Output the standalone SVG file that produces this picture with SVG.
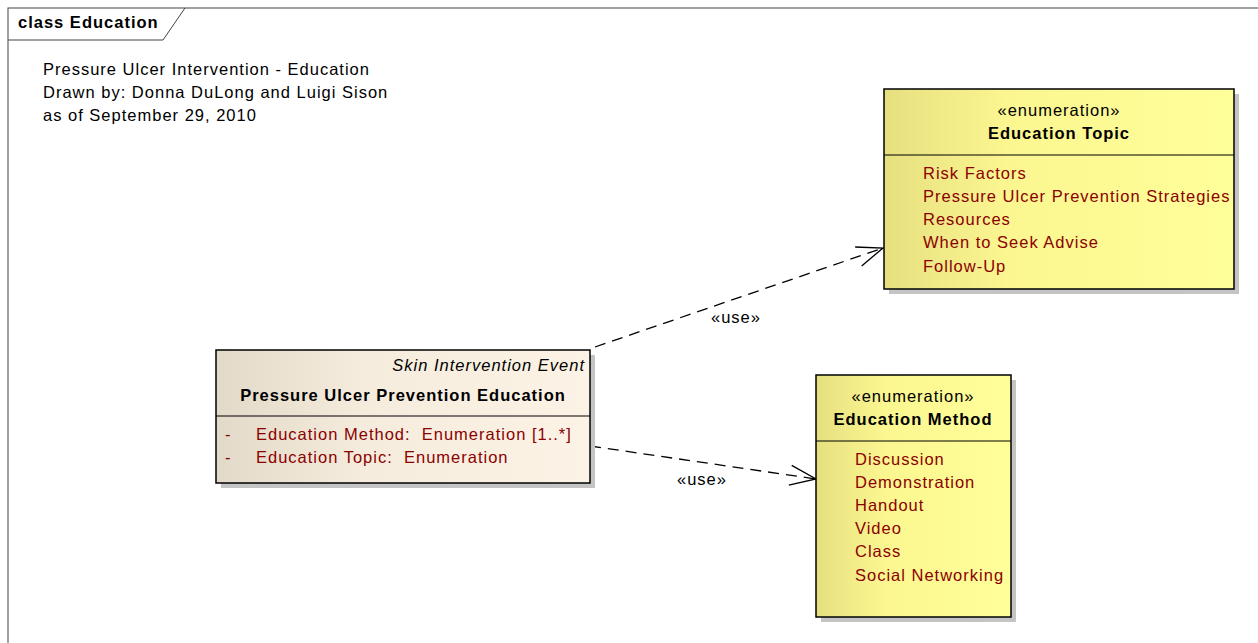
<svg xmlns="http://www.w3.org/2000/svg" width="1258" height="643" viewBox="0 0 1258 643">
<defs>
<style>
text{font-family:"Liberation Sans",Arial,sans-serif;font-size:16.5px;letter-spacing:1px;fill:#000;white-space:pre}
.b{font-weight:bold}
.i{font-style:italic}
.r{fill:#8b0000}
.c{text-anchor:middle}
.e{text-anchor:end}
.box{stroke:#000;stroke-width:1.5}
.sh{fill:#c4c4c4}
.dv{stroke:#000;stroke-width:1.2}
.con{fill:none;stroke:#000;stroke-width:1.3;stroke-dasharray:11 7}
</style>
<linearGradient id="gy" x1="0" y1="0" x2="1" y2="0">
<stop offset="0" stop-color="#e6df80"/>
<stop offset="0.35" stop-color="#fbf690"/>
<stop offset="1" stop-color="#ffff99"/>
</linearGradient>
<linearGradient id="gb" x1="0" y1="0" x2="1" y2="0">
<stop offset="0" stop-color="#e2d9c8"/>
<stop offset="0.4" stop-color="#f5ecdd"/>
<stop offset="1" stop-color="#fcf3e6"/>
</linearGradient>
<marker id="arr" markerUnits="userSpaceOnUse" markerWidth="40" markerHeight="30" viewBox="-30 -15 40 30" refX="0" refY="0" orient="auto">
<path d="M -26 -10 L 0 0 L -26 10" fill="none" stroke="#000" stroke-width="1.3"/>
</marker>
</defs>
<rect width="1258" height="643" fill="#fff"/>
<g id="frame">
<rect x="8" y="8" width="1262" height="650" fill="none" stroke="#444" stroke-width="1"/>
<path d="M 8 40 L 163 40 L 185 8" fill="none" stroke="#444" stroke-width="1"/>
<text class="b" x="18" y="28">class Education</text>
</g>
<g id="note">
<text x="43" y="75">Pressure Ulcer Intervention - Education</text>
<text x="43" y="98">Drawn by: Donna DuLong and Luigi Sison</text>
<text x="43" y="121">as of September 29, 2010</text>
</g>
<g id="connectors">
<path class="con" d="M 595 347 L 883 248" marker-end="url(#arr)"/>
<text class="c" x="736" y="323">«use»</text>
<path class="con" d="M 590 446 L 816 479" marker-end="url(#arr)"/>
<text class="c" x="702" y="485">«use»</text>
</g>
<g id="education-topic">
<rect class="sh" x="889" y="94" width="350" height="200"/>
<rect class="box" x="884" y="89" width="350" height="200" fill="url(#gy)"/>
<line class="dv" x1="884" y1="155" x2="1234" y2="155"/>
<text class="c" x="1059" y="116">«enumeration»</text>
<text class="c b" x="1059" y="139">Education Topic</text>
<text class="r" x="923" y="179">Risk Factors</text>
<text class="r" x="923" y="202">Pressure Ulcer Prevention Strategies</text>
<text class="r" x="923" y="225">Resources</text>
<text class="r" x="923" y="248">When to Seek Advise</text>
<text class="r" x="923" y="272">Follow-Up</text>
</g>
<g id="education-method">
<rect class="sh" x="821" y="380" width="195" height="242"/>
<rect class="box" x="816" y="375" width="195" height="242" fill="url(#gy)"/>
<line class="dv" x1="816" y1="441" x2="1011" y2="441"/>
<text class="c" x="913" y="402">«enumeration»</text>
<text class="c b" x="913" y="425">Education Method</text>
<text class="r" x="855" y="465">Discussion</text>
<text class="r" x="855" y="488">Demonstration</text>
<text class="r" x="855" y="511">Handout</text>
<text class="r" x="855" y="534">Video</text>
<text class="r" x="855" y="557">Class</text>
<text class="r" x="855" y="581">Social Networking</text>
</g>
<g id="pressure-ulcer-prevention-education">
<rect class="sh" x="221" y="355" width="374" height="133"/>
<rect class="box" x="216" y="350" width="374" height="133" fill="url(#gb)"/>
<line class="dv" x1="216" y1="416" x2="590" y2="416"/>
<text class="i e" x="585" y="371">Skin Intervention Event</text>
<text class="b c" x="403" y="401">Pressure Ulcer Prevention Education</text>
<text class="r" x="225" y="440">-</text>
<text class="r" x="256" y="440">Education Method:  Enumeration [1..*]</text>
<text class="r" x="225" y="463">-</text>
<text class="r" x="256" y="463">Education Topic:  Enumeration</text>
</g>
</svg>
